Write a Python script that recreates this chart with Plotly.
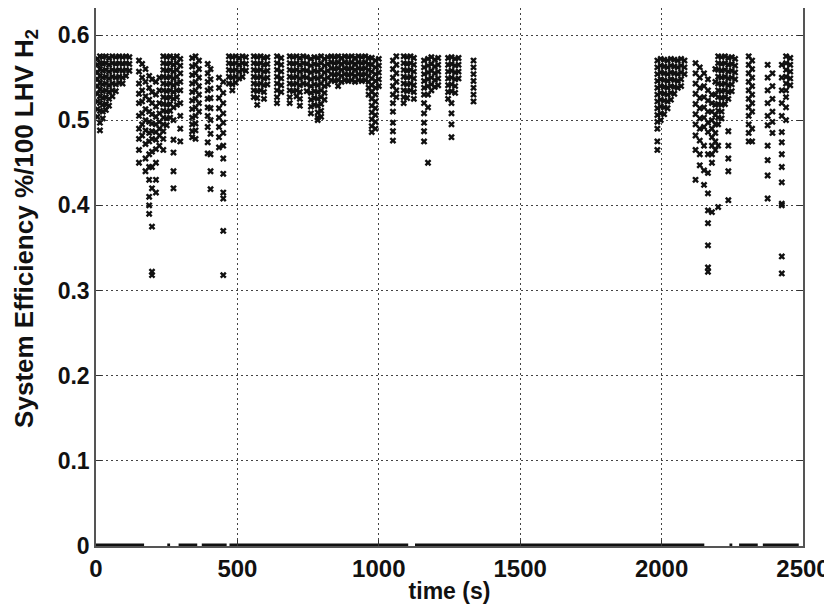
import plotly.graph_objects as go

# ---- data ----
# column times (s) and the efficiency values stacked at each time
col_time_early = [5, 14, 24, 35, 46, 58, 70, 82, 94, 106, 118,
                  152, 163, 175, 188, 198, 212, 224,
                  238, 250, 262, 274, 286, 298,
                  340, 352, 364, 395, 405, 435, 450,
                  470, 482, 494, 506, 518, 530,
                  558, 570, 582, 594, 606, 640, 655,
                  685, 697, 709, 721, 733, 745,
                  760, 772, 784, 796, 808, 820,
                  832, 844, 856, 868, 880, 892, 904, 916, 928, 940, 952, 964,
                  975, 988, 1000, 1050, 1062,
                  1088, 1100, 1112, 1124,
                  1160, 1174, 1186, 1198, 1210,
                  1245, 1257, 1270, 1282, 1335]
col_eff_early = [
    [0.572, 0.565, 0.556, 0.548, 0.54, 0.531, 0.522, 0.513, 0.504],
    [0.575, 0.567, 0.56, 0.552, 0.544, 0.536, 0.528, 0.52, 0.511, 0.497, 0.488],
    [0.574, 0.566, 0.558, 0.55, 0.542, 0.534, 0.526, 0.518, 0.51, 0.502],
    [0.575, 0.567, 0.559, 0.551, 0.543, 0.535, 0.527, 0.519, 0.512],
    [0.573, 0.565, 0.557, 0.549, 0.541, 0.533, 0.525, 0.517],
    [0.575, 0.567, 0.559, 0.551, 0.543, 0.535, 0.528],
    [0.574, 0.566, 0.558, 0.55, 0.542, 0.534],
    [0.575, 0.567, 0.559, 0.551, 0.544],
    [0.574, 0.566, 0.558, 0.55, 0.543],
    [0.575, 0.567, 0.559, 0.552],
    [0.574, 0.566, 0.558],
    [0.57, 0.557, 0.543, 0.531, 0.52, 0.505, 0.49, 0.478, 0.465, 0.45],
    [0.566, 0.55, 0.535, 0.522, 0.508, 0.495, 0.482],
    [0.56, 0.545, 0.528, 0.513, 0.5, 0.488, 0.472, 0.455, 0.44],
    [0.552, 0.538, 0.524, 0.51, 0.498, 0.485, 0.475, 0.46, 0.445, 0.43, 0.41, 0.4, 0.39],
    [0.548, 0.533, 0.52, 0.507, 0.496, 0.487, 0.478, 0.463, 0.445, 0.42, 0.375, 0.318, 0.322],
    [0.545, 0.53, 0.516, 0.504, 0.495, 0.486, 0.477, 0.466, 0.45, 0.43, 0.415],
    [0.55, 0.535, 0.52, 0.508, 0.498, 0.49, 0.482, 0.47],
    [0.575, 0.567, 0.559, 0.551, 0.543, 0.535, 0.527, 0.519, 0.511, 0.503, 0.495, 0.487, 0.478, 0.465],
    [0.574, 0.566, 0.558, 0.55, 0.542, 0.534, 0.526, 0.518, 0.51, 0.502, 0.494],
    [0.575, 0.567, 0.559, 0.551, 0.543, 0.535, 0.527, 0.519, 0.511, 0.503],
    [0.573, 0.565, 0.557, 0.549, 0.541, 0.533, 0.525, 0.515, 0.5, 0.477, 0.462, 0.44, 0.42],
    [0.575, 0.567, 0.559, 0.551, 0.543, 0.535, 0.527, 0.518],
    [0.572, 0.564, 0.555, 0.545, 0.535, 0.52, 0.505, 0.49, 0.475],
    [0.573, 0.563, 0.553, 0.543, 0.533, 0.523, 0.513, 0.503, 0.495, 0.487, 0.48],
    [0.575, 0.565, 0.555, 0.545, 0.535, 0.525, 0.515, 0.505, 0.496, 0.488, 0.478],
    [0.57, 0.56, 0.55, 0.54, 0.53, 0.52, 0.51],
    [0.566, 0.555, 0.545, 0.535, 0.525, 0.515, 0.505, 0.492, 0.474, 0.461],
    [0.56, 0.548, 0.537, 0.526, 0.514, 0.5, 0.484, 0.46, 0.44, 0.419],
    [0.55, 0.538, 0.526, 0.514, 0.503, 0.492, 0.48, 0.468],
    [0.545, 0.532, 0.52, 0.508, 0.497, 0.485, 0.47, 0.455, 0.437, 0.415, 0.408, 0.37, 0.318],
    [0.575, 0.567, 0.559, 0.551, 0.543],
    [0.574, 0.566, 0.558, 0.55, 0.542, 0.535],
    [0.575, 0.567, 0.559, 0.551, 0.544],
    [0.573, 0.565, 0.557, 0.549],
    [0.575, 0.567, 0.559, 0.551],
    [0.574, 0.566, 0.558],
    [0.575, 0.567, 0.559, 0.551, 0.543, 0.535, 0.527],
    [0.574, 0.566, 0.558, 0.55, 0.542, 0.534, 0.526, 0.518],
    [0.575, 0.567, 0.559, 0.551, 0.543, 0.535],
    [0.573, 0.565, 0.557, 0.549, 0.541, 0.533, 0.525],
    [0.574, 0.566, 0.558, 0.55, 0.542],
    [0.575, 0.567, 0.559, 0.551, 0.543, 0.535, 0.527, 0.52],
    [0.573, 0.565, 0.557, 0.549, 0.541, 0.533],
    [0.575, 0.567, 0.559, 0.551, 0.543, 0.535, 0.527, 0.52],
    [0.574, 0.566, 0.558, 0.55, 0.542, 0.534],
    [0.575, 0.567, 0.559, 0.551, 0.543, 0.535, 0.528],
    [0.573, 0.565, 0.557, 0.549, 0.541, 0.533, 0.525, 0.517],
    [0.575, 0.567, 0.559, 0.551, 0.543],
    [0.574, 0.566, 0.558, 0.55, 0.542, 0.534],
    [0.572, 0.564, 0.556, 0.548, 0.54, 0.532, 0.524, 0.516, 0.508],
    [0.574, 0.566, 0.558, 0.55, 0.542, 0.534, 0.526, 0.518],
    [0.573, 0.565, 0.557, 0.549, 0.541, 0.533, 0.525, 0.517, 0.509, 0.503, 0.5],
    [0.575, 0.567, 0.559, 0.551, 0.543, 0.535, 0.527, 0.519, 0.511, 0.504],
    [0.572, 0.564, 0.556, 0.548, 0.54, 0.532, 0.524],
    [0.574, 0.566, 0.558, 0.55, 0.542],
    [0.575, 0.568, 0.561, 0.554, 0.547],
    [0.574, 0.567, 0.56, 0.553, 0.546],
    [0.575, 0.568, 0.561, 0.554, 0.547, 0.54],
    [0.573, 0.566, 0.559, 0.552, 0.545],
    [0.575, 0.568, 0.561, 0.554, 0.547],
    [0.574, 0.567, 0.56, 0.553, 0.546],
    [0.575, 0.568, 0.561, 0.554, 0.547],
    [0.573, 0.566, 0.559, 0.552, 0.545],
    [0.575, 0.568, 0.561, 0.554, 0.547],
    [0.574, 0.567, 0.56, 0.553, 0.546],
    [0.575, 0.568, 0.561, 0.554, 0.547],
    [0.573, 0.566, 0.559, 0.552, 0.545, 0.538, 0.53],
    [0.573, 0.565, 0.557, 0.549, 0.541, 0.533, 0.525, 0.517, 0.509, 0.501, 0.493, 0.486],
    [0.57, 0.562, 0.554, 0.546, 0.538, 0.53, 0.522, 0.514, 0.506, 0.498, 0.49],
    [0.572, 0.564, 0.556, 0.548, 0.54],
    [0.57, 0.56, 0.55, 0.54, 0.53, 0.52, 0.51, 0.497, 0.487, 0.476],
    [0.575, 0.565, 0.555, 0.545, 0.535, 0.527],
    [0.575, 0.567, 0.559, 0.551, 0.543, 0.535, 0.527, 0.52],
    [0.574, 0.566, 0.558, 0.55, 0.542, 0.534, 0.526],
    [0.575, 0.567, 0.559, 0.551, 0.543, 0.535],
    [0.573, 0.565, 0.557, 0.549, 0.541, 0.533, 0.525],
    [0.57, 0.562, 0.554, 0.546, 0.538, 0.53, 0.52, 0.508, 0.497, 0.487, 0.475],
    [0.572, 0.564, 0.556, 0.548, 0.54, 0.53, 0.515, 0.45],
    [0.574, 0.566, 0.558, 0.55, 0.542, 0.535],
    [0.571, 0.563, 0.555, 0.547, 0.539],
    [0.573, 0.565, 0.557, 0.549, 0.541],
    [0.573, 0.565, 0.557, 0.549, 0.541, 0.533, 0.525],
    [0.574, 0.566, 0.558, 0.55, 0.542, 0.534, 0.52, 0.508, 0.495, 0.48],
    [0.572, 0.564, 0.556, 0.548, 0.54, 0.532],
    [0.573, 0.565, 0.557, 0.549],
    [0.57, 0.562, 0.554, 0.546, 0.538, 0.53, 0.522],
]

col_time_late = [1985, 1997, 2009, 2021, 2033, 2045, 2057, 2069, 2081,
                 2120, 2135, 2150, 2164, 2178, 2190, 2200, 2212, 2224, 2236, 2248, 2260,
                 2308, 2320, 2375, 2392, 2425, 2440, 2455]
col_eff_late = [
    [0.57, 0.562, 0.554, 0.546, 0.538, 0.53, 0.522, 0.514, 0.506, 0.498, 0.49, 0.475, 0.465],
    [0.572, 0.564, 0.556, 0.548, 0.54, 0.532, 0.524, 0.516, 0.508, 0.5],
    [0.571, 0.563, 0.555, 0.547, 0.539, 0.531, 0.523, 0.515, 0.507],
    [0.57, 0.562, 0.554, 0.546, 0.538, 0.53, 0.522, 0.514],
    [0.572, 0.564, 0.556, 0.548, 0.54, 0.532, 0.524],
    [0.571, 0.563, 0.555, 0.547, 0.539, 0.531],
    [0.57, 0.562, 0.554, 0.546, 0.538],
    [0.572, 0.564, 0.556, 0.548, 0.54],
    [0.57, 0.562, 0.554],
    [0.567, 0.555, 0.543, 0.531, 0.519, 0.507, 0.495, 0.482, 0.465, 0.43],
    [0.562, 0.55, 0.538, 0.526, 0.514, 0.502, 0.49, 0.476, 0.46, 0.447],
    [0.555, 0.54, 0.527, 0.515, 0.503, 0.492, 0.47, 0.441, 0.424],
    [0.548, 0.535, 0.523, 0.51, 0.497, 0.486, 0.46, 0.438, 0.414, 0.394, 0.379, 0.353, 0.327, 0.322],
    [0.53, 0.52, 0.51, 0.5, 0.49, 0.48, 0.47, 0.46, 0.45, 0.392],
    [0.56, 0.545, 0.53, 0.518, 0.506, 0.495, 0.485, 0.475, 0.465],
    [0.575, 0.567, 0.559, 0.551, 0.543, 0.535, 0.527, 0.519, 0.511, 0.503, 0.495, 0.47, 0.398],
    [0.574, 0.566, 0.558, 0.55, 0.542, 0.534, 0.526, 0.518, 0.51, 0.502],
    [0.575, 0.567, 0.559, 0.551, 0.543, 0.535, 0.527, 0.519],
    [0.573, 0.565, 0.557, 0.549, 0.541, 0.533, 0.525, 0.487, 0.47, 0.455, 0.44, 0.406],
    [0.574, 0.566, 0.558, 0.55, 0.542, 0.534],
    [0.572, 0.564, 0.556, 0.548],
    [0.575, 0.565, 0.555, 0.545, 0.535, 0.525, 0.515, 0.505, 0.495, 0.485, 0.475],
    [0.57, 0.56, 0.55, 0.54, 0.53, 0.52, 0.51, 0.49, 0.475],
    [0.565, 0.55, 0.535, 0.52, 0.505, 0.494, 0.47, 0.453, 0.435, 0.408],
    [0.555, 0.54, 0.525, 0.51, 0.498, 0.485],
    [0.565, 0.55, 0.535, 0.52, 0.505, 0.486, 0.474, 0.46, 0.445, 0.427, 0.402, 0.4, 0.34, 0.32],
    [0.575, 0.567, 0.559, 0.551, 0.543, 0.535, 0.527, 0.515, 0.5],
    [0.573, 0.565, 0.557, 0.549, 0.541],
]

# stretches of time where the efficiency sits at zero
zero_start = [0, 252, 292, 374, 472, 1128, 2240, 2274, 2358]
zero_end = [170, 262, 358, 462, 1104, 2151, 2250, 2340, 2485]

x_ticks = [0, 500, 1000, 1500, 2000, 2500]
y_ticks = [0, 0.1, 0.2, 0.3, 0.4, 0.5, 0.6]

# ---- build traces ----
pts_t, pts_e = [], []
for t, effs in list(zip(col_time_early, col_eff_early)) + list(zip(col_time_late, col_eff_late)):
    for e in effs:
        pts_t.append(t)
        pts_e.append(e)

zx, zy = [], []
for a, b in zip(zero_start, zero_end):
    zx += [a, b, None]
    zy += [0, 0, None]

fig = go.Figure()
fig.add_trace(go.Scatter(x=zx, y=zy, mode="lines",
                         line=dict(color="#111", width=5),
                         cliponaxis=False, hoverinfo="skip", showlegend=False))
fig.add_trace(go.Scatter(x=pts_t, y=pts_e, mode="markers",
                         marker=dict(symbol="x", size=6, color="#111",
                                     line=dict(width=0)),
                         cliponaxis=False, showlegend=False))

font_family = "Liberation Sans, Arial, sans-serif"
grid = dict(showgrid=True, gridcolor="#444", gridwidth=1, griddash="2px,3px")

fig.update_layout(
    width=824, height=603,
    margin=dict(l=88, r=29, t=0, b=65),
    paper_bgcolor="white", plot_bgcolor="white",
    font=dict(family=font_family, color="#111"),
    xaxis=dict(range=[0, 2500], tickvals=x_ticks, ticktext=[str(v) for v in x_ticks],
               ticks="inside", ticklen=6, tickcolor="#333",
               showline=True, linecolor="#555", linewidth=1.5, mirror=False,
               zeroline=False,
               tickfont=dict(size=24, family=font_family, weight="bold"),
               title=dict(text="time (s)", font=dict(size=23, weight="bold"), standoff=2),
               **grid),
    yaxis=dict(range=[0, 0.6317], tickvals=y_ticks,
               ticktext=["0", "0.1", "0.2", "0.3", "0.4", "0.5", "0.6"],
               ticks="inside", ticklen=6, tickcolor="#333",
               showline=True, linecolor="#555", linewidth=1.5, mirror="ticks",
               zeroline=False,
               tickfont=dict(size=23, family=font_family, weight="bold"),
               **grid),
    annotations=[dict(
        text="System Efficiency %/100 LHV H<sub>2</sub>",
        textangle=-90, xref="paper", yref="paper",
        x=-0.1, y=0.59, xanchor="center", yanchor="middle",
        showarrow=False, font=dict(size=26, weight="bold", color="#111"))],
)

fig.write_html("out.html")
